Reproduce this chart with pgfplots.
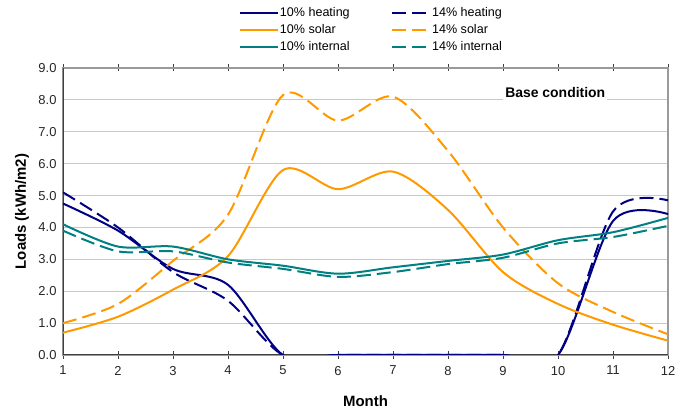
\documentclass[border=0pt]{standalone}
\usepackage{pgfplots}
\pgfplotsset{compat=1.18}
\usepackage{fontspec}
\setmainfont{Liberation Sans}
\definecolor{cnavy}{HTML}{000080}
\definecolor{corange}{HTML}{FF9900}
\definecolor{cteal}{HTML}{008080}
\definecolor{cgrid}{HTML}{C8C8C8}
\definecolor{cframe}{HTML}{9A9A9A}
\definecolor{caxis}{HTML}{404040}
\begin{document}
\begin{tikzpicture}
\useasboundingbox (-63bp,-59bp) rectangle (621bp,355bp);
\begin{axis}[
  at={(0,0)}, anchor=south west,
  scale only axis, width=605bp, height=287bp,
  xmin=1, xmax=12, ymin=0, ymax=9,
  xtick={1,...,12}, ytick={0,1,...,9},
  yticklabel style={/pgf/number format/fixed, /pgf/number format/fixed zerofill, /pgf/number format/precision=1},
  /pgf/number format/assume math mode=true,
  ymajorgrids, grid style={cgrid, line width=0.9bp},
  axis line style={cframe, line width=1.2bp},
  xtick align=center, major tick length=7bp,
  xtick style={caxis, line width=0.8bp},
  ytick style={draw=none},
  tick label style={font=\fontsize{13}{15}\selectfont, text=black!85},
  xticklabel style={yshift=-4bp},
  yticklabel style={xshift=-3bp},
  xlabel={Month}, ylabel={Loads (kWh/m2)},
  every axis x label/.style={at={(axis description cs:0.5,-0.160)}, anchor=center, font=\bfseries\fontsize{15}{17}\selectfont},
  every axis y label/.style={at={(axis description cs:-0.0678,0.5)}, rotate=90, anchor=center, font=\bfseries\fontsize{15}{17}\selectfont},
  legend columns=2, legend cell align=left,
  legend style={draw=none, fill=none, at={(axis description cs:0.509,1.222)}, anchor=north,
    font=\fontsize{12.6}{14}\selectfont, row sep=4bp,
    nodes={inner sep=1.2bp},
    /tikz/every even column/.append style={column sep=40bp}},
  legend image code/.code={\draw[#1] (0bp,0bp) -- (38bp,0bp);},
  every axis plot/.append style={line width=2bp, smooth},
  clip=true,
]
\draw[caxis, line width=1.2bp] (rel axis cs:0,1) -- (rel axis cs:0,0) -- (rel axis cs:1,0);
\addplot[cnavy] coordinates {(1,4.75) (2,3.9) (3,2.7) (4,2.2) (5,0) (6,0) (7,0) (8,0) (9,0) (10,0) (11,4.2) (12,4.42)};
\addlegendentry{10\% heating}
\addplot[cnavy, dash pattern=on 14bp off 6bp] coordinates {(1,5.1) (2,4.0) (3,2.6) (4,1.7) (5,0) (6,0) (7,0) (8,0) (9,0) (10,0) (11,4.5) (12,4.85)};
\addlegendentry{14\% heating}
\addplot[corange] coordinates {(1,0.7) (2,1.2) (3,2.05) (4,3.1) (5,5.8) (6,5.2) (7,5.75) (8,4.55) (9,2.6) (10,1.6) (11,0.95) (12,0.45)};
\addlegendentry{10\% solar}
\addplot[corange, dash pattern=on 14bp off 6bp] coordinates {(1,1.0) (2,1.6) (3,2.95) (4,4.4) (5,8.15) (6,7.35) (7,8.1) (8,6.4) (9,4.0) (10,2.25) (11,1.35) (12,0.65)};
\addlegendentry{14\% solar}
\addplot[cteal] coordinates {(1,4.1) (2,3.4) (3,3.4) (4,3.0) (5,2.8) (6,2.55) (7,2.75) (8,2.95) (9,3.15) (10,3.6) (11,3.85) (12,4.3)};
\addlegendentry{10\% internal}
\addplot[cteal, dash pattern=on 14bp off 6bp] coordinates {(1,3.9) (2,3.25) (3,3.25) (4,2.9) (5,2.7) (6,2.45) (7,2.6) (8,2.85) (9,3.05) (10,3.5) (11,3.7) (12,4.05)};
\addlegendentry{14\% internal}
\node[fill=white, inner sep=2bp, font=\bfseries\fontsize{14}{16}\selectfont] at (axis cs:9.95,8.22) {Base condition};
\end{axis}
\end{tikzpicture}
\end{document}
